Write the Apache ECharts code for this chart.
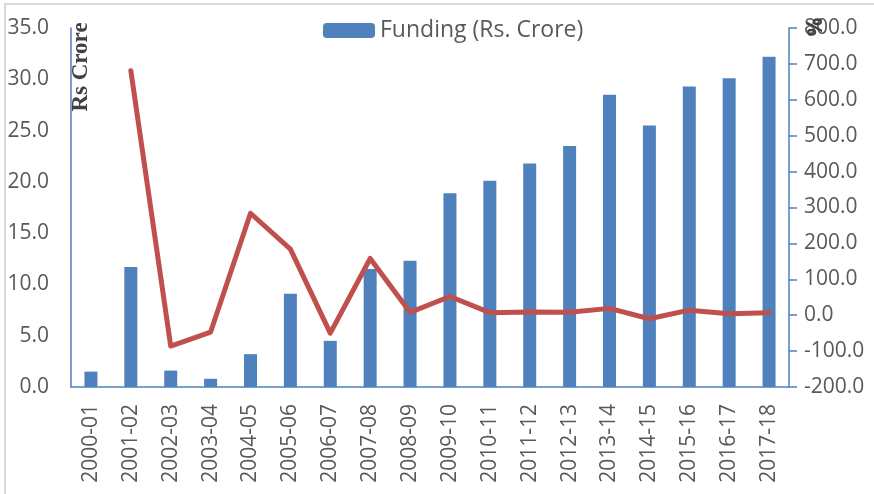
<!DOCTYPE html>
<html>
<head>
<meta charset="utf-8">
<script src="https://cdn.jsdelivr.net/npm/echarts@6/dist/echarts.min.js"></script>
<style>
  html, body { margin: 0; padding: 0; background: #fff; }
  #chart { width: 874px; height: 494px; }
</style>
</head>
<body>
<div id="chart"></div>
<script>
const years = ['2000-01', '2001-02', '2002-03', '2003-04', '2004-05', '2005-06', '2006-07', '2007-08', '2008-09',
  '2009-10', '2010-11', '2011-12', '2012-13', '2013-14', '2014-15', '2015-16', '2016-17', '2017-18']
// funding in Rs crore (left axis)
const funding = [1.5, 11.7, 1.6, 0.8, 3.2, 9.1, 4.5, 11.5, 12.3, 18.9, 20.1, 21.8, 23.5, 28.5, 25.5, 29.3, 30.1, 32.2]
// year-on-year growth in % (right axis)
const growth = [null, 681, -86, -47, 284, 184, -50, 158, 8, 52, 7, 9, 8, 19, -10, 14, 4, 7]

const axisBlue = '#4F81BD'
const textGrey = '#595959'
const font = 'Open Sans'

const chart = echarts.init(document.getElementById('chart'))
chart.setOption({
  animation: false,
  textStyle: { fontFamily: font },
  grid: { left: 71, right: 85, top: 28, bottom: 107 },
  legend: {
    data: ['Funding (Rs. Crore)'],
    left: 323,
    top: 19,
    padding: 0,
    itemWidth: 52,
    itemHeight: 15,
    itemGap: 5,
    textStyle: { color: textGrey, fontSize: 23, fontFamily: font }
  },
  xAxis: {
    type: 'category',
    data: years,
    axisLine: { lineStyle: { color: axisBlue, width: 1.5 } },
    axisTick: { show: false },
    axisLabel: { rotate: 90, margin: 17, fontSize: 21, color: textGrey, interval: 0 }
  },
  yAxis: [
    {
      type: 'value',
      min: 0,
      max: 35,
      interval: 5,
      axisLine: { show: true, lineStyle: { color: axisBlue, width: 1.5 } },
      axisTick: { show: false },
      splitLine: { show: false },
      axisLabel: {
        margin: 22,
        fontSize: 21,
        color: textGrey,
        formatter: v => v.toFixed(1)
      }
    },
    {
      type: 'value',
      min: -200,
      max: 800,
      interval: 100,
      position: 'right',
      axisLine: { show: true, lineStyle: { color: axisBlue, width: 1.5 } },
      axisTick: { show: true, length: 8, lineStyle: { color: axisBlue, width: 1.5 } },
      splitLine: { show: false },
      axisLabel: {
        margin: 15,
        fontSize: 21,
        color: textGrey,
        formatter: v => v.toFixed(1)
      }
    }
  ],
  graphic: [
    {
      type: 'rect',
      silent: true,
      shape: { x: 5, y: 4, width: 900, height: 600 },
      style: { fill: 'none', stroke: '#d9d9d9', lineWidth: 2 }
    },
    {
      type: 'text',
      x: 81,
      y: 67,
      rotation: Math.PI / 2,
      style: {
        text: 'Rs Crore',
        font: 'bold 23px "Liberation Serif", "DejaVu Serif", serif',
        fill: '#404040',
        align: 'center',
        verticalAlign: 'middle'
      }
    },
    {
      type: 'text',
      x: 813,
      y: 27,
      rotation: -Math.PI / 2,
      z: 10,
      style: {
        text: '%',
        font: 'bold 21px "Open Sans", sans-serif',
        fill: '#404040',
        align: 'center',
        verticalAlign: 'middle'
      }
    }
  ],
  series: [
    {
      name: 'Funding (Rs. Crore)',
      type: 'bar',
      data: funding,
      barWidth: 13,
      itemStyle: { color: '#4F81BD' }
    },
    {
      name: 'Growth (%)',
      type: 'line',
      yAxisIndex: 1,
      data: growth,
      showSymbol: false,
      connectNulls: false,
      lineStyle: { color: '#C0504D', width: 5, cap: 'round', join: 'round' },
      itemStyle: { color: '#C0504D' }
    }
  ]
})
</script>
</body>
</html>
